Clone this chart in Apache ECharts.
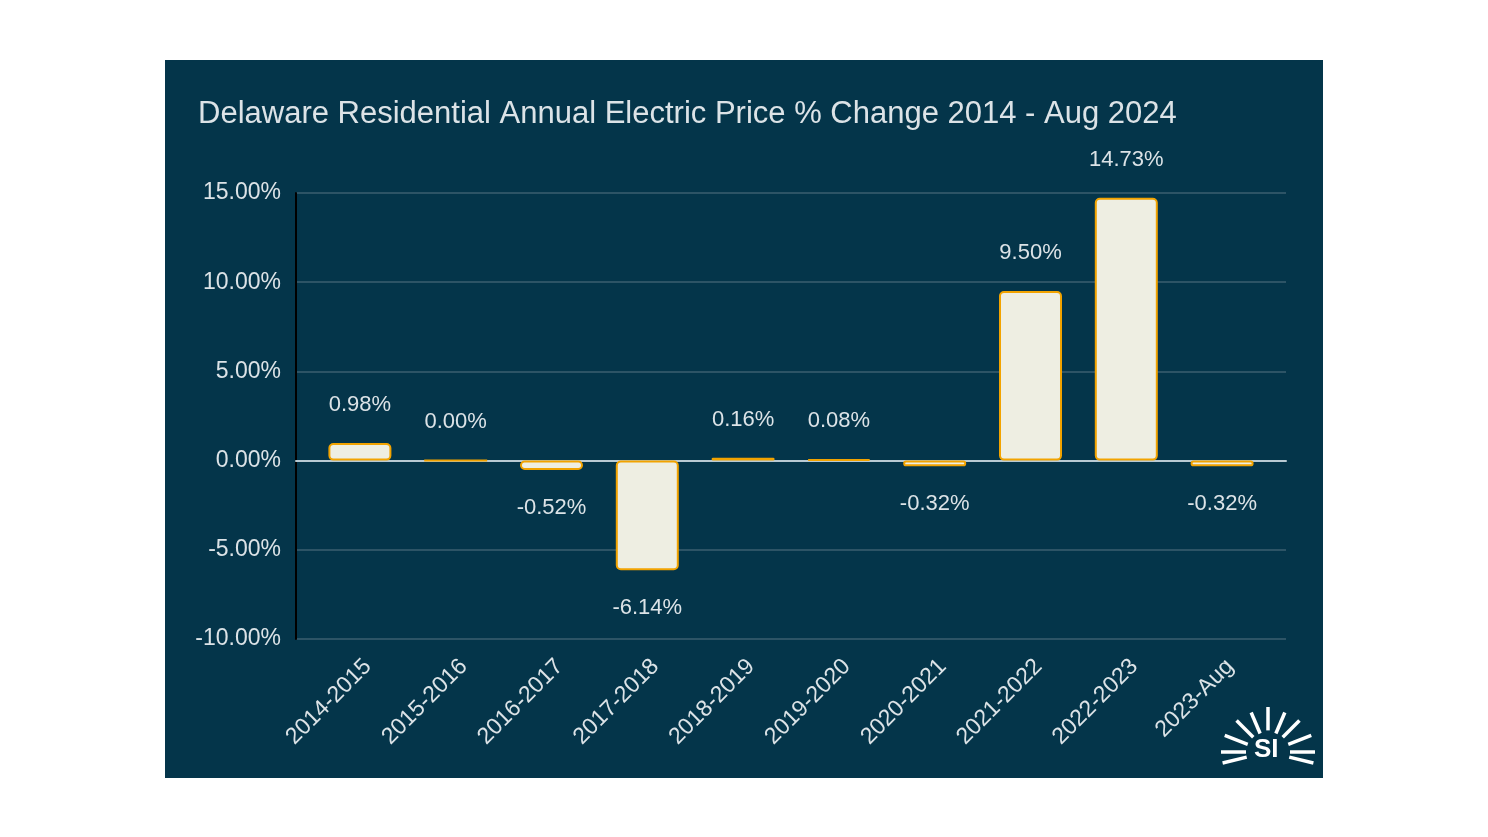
<!DOCTYPE html>
<html><head><meta charset="utf-8">
<script src="https://cdn.jsdelivr.net/npm/echarts@6/dist/echarts.min.js"></script>
<style>
html,body{margin:0;padding:0;background:#ffffff;width:1488px;height:837px;overflow:hidden;}
#c{position:absolute;left:165px;top:60px;width:1158px;height:718px;}
</style></head>
<body><div id="c"></div>
<script>
const categories = ['2014-2015','2015-2016','2016-2017','2017-2018','2018-2019','2019-2020','2020-2021','2021-2022','2022-2023','2023-Aug'];
const values = [0.98, 0.00, -0.52, -6.14, 0.16, 0.08, -0.32, 9.50, 14.73, -0.32];
const titleText = 'Delaware Residential Annual Electric Price % Change 2014 - Aug 2024';

const textColor = '#dce3e7';
const font = 'Liberation Sans, Arial, sans-serif';
const chart = echarts.init(document.getElementById('c'), null, {renderer:'canvas'});

// logo rays (decoration)
const cx = 1103, cy = 692, r1 = 22, r2 = 50;
const angles = [195, 180, 157, 132, 111, 90, 69, 48, 23, 0, -15];
const rays = angles.map(a => {
  const t = a * Math.PI / 180;
  const inner = (a === 90) ? 24 : r1;
  const outer = (a === 90) ? r2 : r2 - 3;
  return {type:'line', shape:{x1:cx + inner*Math.cos(t), y1:cy - inner*Math.sin(t)*0.9, x2:cx + outer*Math.cos(t), y2:cy - outer*Math.sin(t)*0.9},
    style:{stroke:'#ffffff', lineWidth:3.5, lineCap:'butt'}, silent:true};
});

chart.setOption({
  backgroundColor:'#04354a',
  animation:false,
  title:{text:titleText, left:28, top:34, textStyle:{color:textColor, fontSize:31, fontWeight:'normal', fontFamily:font}},
  grid:[
    {left:131, right:37, top:133, bottom:139},
    {left:147, right:53, top:133, bottom:139},
    {left:155, right:45, top:133, bottom:139}
  ],
  xAxis:[
    {type:'category', gridIndex:0, data:categories,
      axisLine:{show:true, onZero:true, lineStyle:{color:'#b9cad3', width:2}},
      axisTick:{show:false}, axisLabel:{show:false}},
    {type:'category', gridIndex:1, data:categories,
      axisLine:{show:false}, axisTick:{show:false}, axisLabel:{show:false}},
    {type:'category', gridIndex:2, data:categories,
      axisLine:{show:false}, axisTick:{show:false},
      axisLabel:{color:textColor, rotate:45, fontSize:23, margin:24, fontFamily:font, interval:0}}
  ],
  yAxis:[
    {type:'value', gridIndex:0, min:-10, max:15, interval:5,
      axisLine:{show:true, lineStyle:{color:'#000000', width:2}},
      axisTick:{show:false},
      axisLabel:{color:textColor, fontSize:23, margin:15, fontFamily:font, formatter:v=>v.toFixed(2)+'%'},
      splitLine:{lineStyle:{color:'#3b5f70', width:1.5}}},
    {type:'value', gridIndex:1, min:-10, max:15, interval:5,
      axisLine:{show:false}, axisTick:{show:false}, axisLabel:{show:false}, splitLine:{show:false}},
    {type:'value', gridIndex:2, min:-10, max:15, interval:5,
      axisLine:{show:false}, axisTick:{show:false}, axisLabel:{show:false}, splitLine:{show:false}}
  ],
  series:[{type:'bar', xAxisIndex:1, yAxisIndex:1, barWidth:63,
    data:values.map(v=>({value:v, label:{position: v<0 ? 'bottom' : 'top'}})),
    itemStyle:{color:'#eeeee2', borderColor:'#f2a300', borderWidth:2, borderRadius:4},
    label:{show:true, distance:27, color:textColor, fontSize:22, fontFamily:font, formatter:p=>p.value.toFixed(2)+'%'}
  }],
  graphic:[
    ...rays,
    {type:'text', left:1089, top:677, style:{text:'SI', fill:'#ffffff', font:'bold 26px ' + font}, silent:true}
  ]
});
</script></body></html>
